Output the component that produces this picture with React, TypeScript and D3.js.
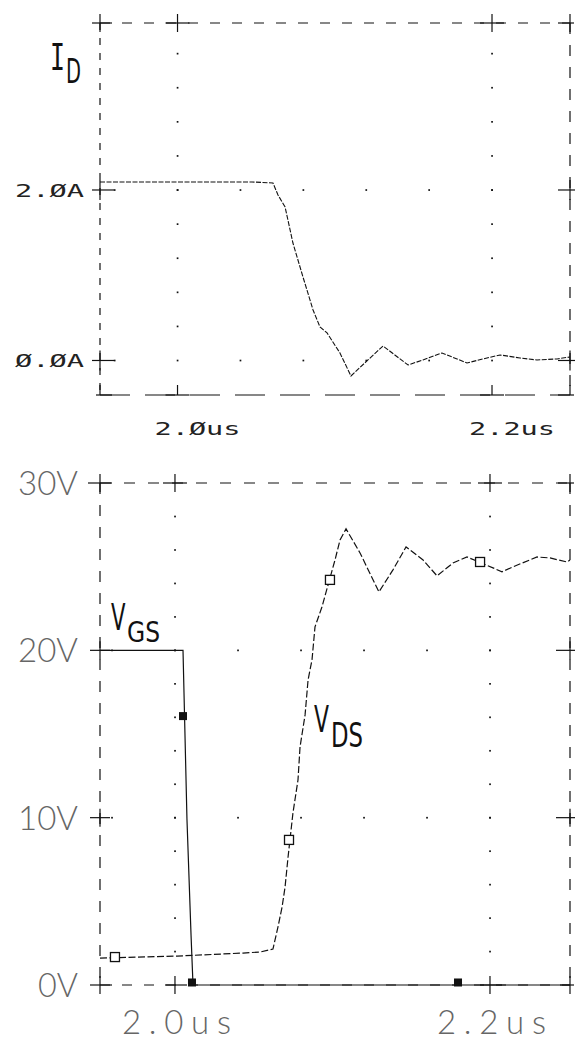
import React from 'react';
import * as d3 from 'd3';

const W = 575;
const H = 1042;

// ---- Top panel: drain current I_D (time in us, current in A) ----
const idTime = [1.9507, 2.0474, 2.0607, 2.0639, 2.0684, 2.0734, 2.0798, 2.0862, 2.0906, 2.0951, 2.1033, 2.1103, 2.1211, 2.1307, 2.1466, 2.1561, 2.1682, 2.1841, 2.1943, 2.2051, 2.2178, 2.2286, 2.2414, 2.2496];
const idAmps = [2.094, 2.094, 2.082, 1.941, 1.801, 1.378, 0.979, 0.592, 0.393, 0.323, 0.088, -0.182, 0.006, 0.17, -0.053, 0.006, 0.088, -0.029, 0.018, 0.065, 0.029, 0.006, 0.018, 0.041];

// ---- Bottom panel: V_DS and V_GS (time in us, volts) ----
const vdsTime = [1.9524, 2.0013, 2.0432, 2.054, 2.0622, 2.0654, 2.068, 2.0699, 2.0718, 2.0749, 2.0781, 2.0794, 2.0826, 2.0845, 2.087, 2.0889, 2.0933, 2.1016, 2.1048, 2.1086, 2.1175, 2.1295, 2.1384, 2.1467, 2.1575, 2.1664, 2.1765, 2.1854, 2.2019, 2.2076, 2.2146, 2.2299, 2.2381, 2.2489, 2.2508];
const vdsVolts = [1.61, 1.73, 1.91, 1.97, 2.15, 3.47, 4.66, 5.86, 7.65, 10.28, 12.25, 14.23, 16.14, 18.23, 19.43, 21.4, 22.59, 25.4, 26.6, 27.26, 25.82, 23.49, 24.81, 26.18, 25.4, 24.45, 25.22, 25.58, 24.93, 24.69, 24.99, 25.58, 25.52, 25.28, 25.4];
const vdsMarkTime = [1.9619, 2.0724, 2.0984, 2.1937];
const vdsMarkVolts = [1.67, 8.67, 24.21, 25.28];

const vgsTime = [1.9524, 2.0051, 2.0076, 2.0102, 2.0114, 2.0114, 2.2508];
const vgsVolts = [20, 20, 9.94, 2.98, 0.12, 0, 0];
const vgsMarkTime = [2.0051, 2.0108, 2.1797];
const vgsMarkVolts = [16.07, 0.15, 0.15];

// ---- Axis ticks ----
const timeTicks = [2.0, 2.2];
const topTimeLabels = ['2.\u00D8us', '2.2us'];
const botTimeLabels = ['2.0us', '2.2us'];
const ampTicks = [0, 2];
const ampLabels = ['\u00D8.\u00D8A', '2.\u00D8A'];
const voltTicks = [0, 10, 20, 30];
const voltLabels = ['0V', '10V', '20V', '30V'];

const INK = '#111';

function Cross({ x, y, l, r, u, d }: { x: number; y: number; l: number; r: number; u: number; d: number }) {
  return (
    <g stroke={INK} strokeWidth={1.2}>
      <line x1={x - l} y1={y} x2={x + r} y2={y} />
      <line x1={x} y1={y - u} x2={x} y2={y + d} />
    </g>
  );
}

function Dot({ x, y }: { x: number; y: number }) {
  return <rect x={x - 0.8} y={y - 0.8} width={1.7} height={1.7} fill={INK} />;
}

export default function App() {
  const xTop = d3.scaleLinear().domain([1.9507, 2.2496]).range([100, 570]);
  const yTop = d3.scaleLinear().domain([-0.405, 3.959]).range([395, 23]);
  const xBot = d3.scaleLinear().domain([1.9524, 2.2508]).range([100, 570]);
  const yBot = d3.scaleLinear().domain([0, 30]).range([985, 483]);

  const idLine = d3.line<number>().x((_, i) => xTop(idTime[i])).y((v) => yTop(v));
  const vdsLine = d3.line<number>().x((_, i) => xBot(vdsTime[i])).y((v) => yBot(v));
  const vgsLine = d3.line<number>().x((_, i) => xBot(vgsTime[i])).y((v) => yBot(v));

  const [tx0, tx1] = xTop.range();
  const [ty1, ty0] = yTop.range();
  const [bx0, bx1] = xBot.range();
  const [by1, by0] = yBot.range();

  const minorT = d3.range(1, 8).map((i) => 1.92 + i * 0.04);
  const minorA = d3.range(1, 10).map((i) => i * 0.4);
  const minorV = d3.range(1, 15).map((i) => i * 2);

  return (
    <svg width={W} height={H} style={{ position: 'absolute', left: 0, top: 0 }} xmlns="http://www.w3.org/2000/svg">
      <rect x={0} y={0} width={W} height={H} fill="#fff" />

      {/* ===== TOP PANEL ===== */}
      <g fill="none" stroke={INK} strokeWidth={1.2}>
        <line x1={tx0} y1={ty0} x2={tx1} y2={ty0} strokeDasharray="10,12" />
        <line x1={tx0} y1={ty1} x2={tx1} y2={ty1} strokeDasharray="30,15" />
        <line x1={tx0} y1={ty0} x2={tx0} y2={ty1} strokeDasharray="7,8" />
        <line x1={tx1} y1={ty0} x2={tx1} y2={ty1} strokeDasharray="11,11" />
      </g>
      {timeTicks.map((t) =>
        minorA.filter((a) => yTop(a) > ty0 + 4).map((a) => <Dot key={`ta${t}${a}`} x={xTop(t)} y={yTop(a)} />)
      )}
      {ampTicks.map((a) => minorT.map((t) => <Dot key={`tt${a}${t}`} x={xTop(t)} y={yTop(a)} />))}
      {[tx0, ...timeTicks.map((t) => xTop(t)), tx1].map((x, i) => (
        <Cross key={`tc${i}`} x={x} y={ty0} l={i === 0 ? 8 : 12} r={i === 3 ? 4 : 12} u={9} d={9} />
      ))}
      {[tx0, ...timeTicks.map((t) => xTop(t)), tx1].map((x, i) => (
        <Cross key={`bc${i}`} x={x} y={ty1} l={i === 0 ? 4 : 12} r={i === 3 ? 4 : 12} u={10} d={0} />
      ))}
      {ampTicks.map((a) => (
        <Cross key={`la${a}`} x={tx0} y={yTop(a)} l={8} r={14} u={10} d={10} />
      ))}
      {ampTicks.map((a) => (
        <Cross key={`ra${a}`} x={tx1} y={yTop(a)} l={12} r={5} u={10} d={10} />
      ))}
      <path d={idLine(idAmps) || ''} fill="none" stroke={INK} strokeWidth={1.1} strokeDasharray="5,1.5" />
      <g fontFamily="'DejaVu Sans Mono', monospace" fontSize={18} fill="#222">
        {ampTicks.map((a, i) => (
          <text key={`al${a}`} x={15} y={yTop(a) + 7} textLength={69} lengthAdjust="spacingAndGlyphs">
            {ampLabels[i]}
          </text>
        ))}
        {timeTicks.map((t, i) => (
          <text key={`tl${t}`} x={xTop(t) - 23} y={435} textLength={86} lengthAdjust="spacingAndGlyphs">
            {topTimeLabels[i]}
          </text>
        ))}
      </g>
      <text fill={INK}>
        <tspan x={50} y={70} fontFamily="'DejaVu Sans Mono', monospace" fontSize={38} textLength={15} lengthAdjust="spacingAndGlyphs">I</tspan>
        <tspan x={66} y={83} fontFamily="'DejaVu Sans', sans-serif" fontSize={34} textLength={15} lengthAdjust="spacingAndGlyphs">D</tspan>
      </text>

      {/* ===== BOTTOM PANEL ===== */}
      <g fill="none" stroke={INK} strokeWidth={1.2}>
        <line x1={bx0} y1={by0} x2={bx1} y2={by0} strokeDasharray="11,13" />
        <line x1={bx0} y1={by1} x2={bx1} y2={by1} strokeDasharray="10,12" />
        <line x1={bx0} y1={by0} x2={bx0} y2={by1} strokeDasharray="11,11" />
        <line x1={bx1} y1={by0} x2={bx1} y2={by1} strokeDasharray="11,11" />
      </g>
      {timeTicks.map((t) => minorV.map((v) => <Dot key={`bv${t}${v}`} x={xBot(t)} y={yBot(v)} />))}
      {[10, 20].map((v) => minorT.map((t) => <Dot key={`bt${v}${t}`} x={xBot(t)} y={yBot(v)} />))}
      {[bx0, ...timeTicks.map((t) => xBot(t)), bx1].map((x, i) => (
        <Cross key={`btc${i}`} x={x} y={by0} l={12} r={i === 3 ? 4 : 12} u={9} d={9} />
      ))}
      {[bx0, ...timeTicks.map((t) => xBot(t)), bx1].map((x, i) => (
        <Cross key={`bbc${i}`} x={x} y={by1} l={10} r={i === 3 ? 4 : 12} u={9} d={9} />
      ))}
      {[10, 20].map((v) => (
        <Cross key={`blv${v}`} x={bx0} y={yBot(v)} l={10} r={10} u={9} d={9} />
      ))}
      {[10, 20].map((v) => (
        <Cross key={`brv${v}`} x={bx1} y={yBot(v)} l={14} r={5} u={9} d={9} />
      ))}
      <path d={vgsLine(vgsVolts) || ''} fill="none" stroke={INK} strokeWidth={1.2} />
      <path d={vdsLine(vdsVolts) || ''} fill="none" stroke={INK} strokeWidth={1.2} strokeDasharray="7,2.5" />
      {vgsMarkTime.map((t, i) => (
        <rect key={`gm${i}`} x={xBot(t) - 4} y={yBot(vgsMarkVolts[i]) - 4} width={8} height={8} fill={INK} />
      ))}
      {vdsMarkTime.map((t, i) => (
        <rect key={`dm${i}`} x={xBot(t) - 4.5} y={yBot(vdsMarkVolts[i]) - 4.5} width={9} height={9} fill="#fff" stroke={INK} strokeWidth={1.3} />
      ))}
      <g fontFamily="Lato, 'DejaVu Sans', sans-serif" fontWeight={300} fontSize={33} fill="#666">
        {voltTicks.map((v, i) => (
          <text key={`vl${v}`} x={78} y={yBot(v) + 12} textAnchor="end" textLength={voltLabels[i].length * 20} lengthAdjust="spacingAndGlyphs">
            {voltLabels[i]}
          </text>
        ))}
        {timeTicks.map((t, i) => (
          <text key={`btl${t}`} x={xBot(t) - 53} y={1034} textLength={109} lengthAdjust="spacing">
            {botTimeLabels[i]}
          </text>
        ))}
      </g>
      <text fontFamily="'DejaVu Sans', sans-serif" fill={INK}>
        <tspan x={111} y={630} fontSize={38} textLength={14.5} lengthAdjust="spacingAndGlyphs">V</tspan>
        <tspan x={127} y={642} fontSize={28} textLength={33} lengthAdjust="spacingAndGlyphs">GS</tspan>
      </text>
      <text fontFamily="'DejaVu Sans', sans-serif" fill={INK}>
        <tspan x={314} y={732} fontSize={37} textLength={15} lengthAdjust="spacingAndGlyphs">V</tspan>
        <tspan x={331} y={747} fontSize={33} textLength={32} lengthAdjust="spacingAndGlyphs">DS</tspan>
      </text>
    </svg>
  );
}
